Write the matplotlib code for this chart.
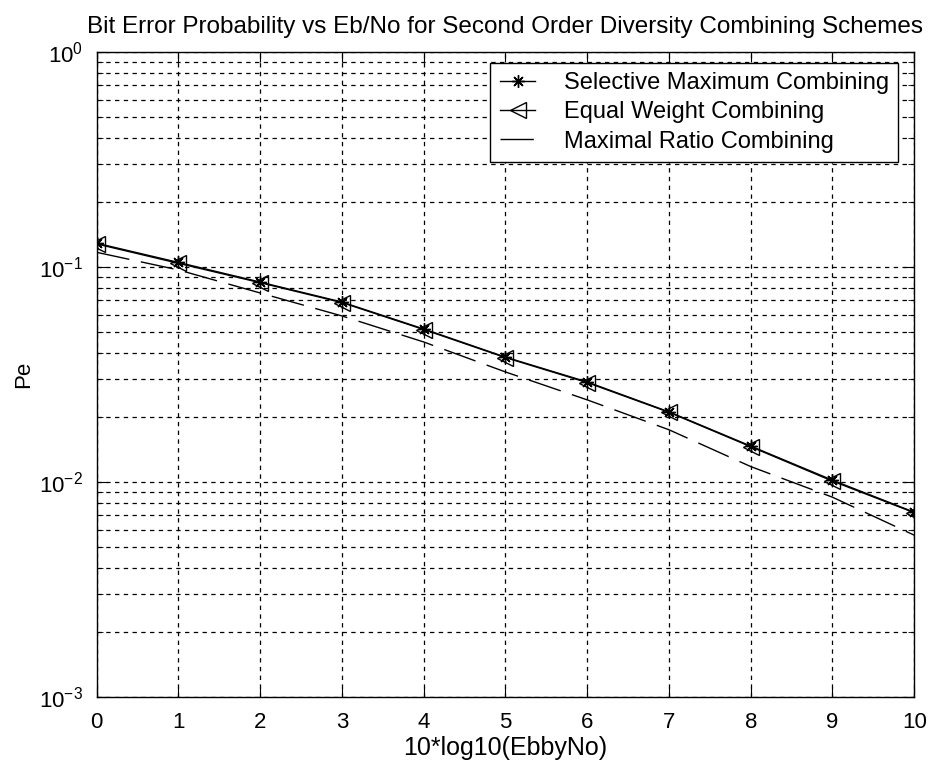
import matplotlib
matplotlib.use('Agg')
import matplotlib.pyplot as plt
import numpy as np

plt.rcParams['font.family'] = ['Liberation Sans', 'DejaVu Sans']
plt.rcParams['mathtext.fontset'] = 'custom'
plt.rcParams['mathtext.rm'] = 'Liberation Sans'

# values
ebno_db = np.arange(0, 11)
pe_selective = [0.129, 0.105, 0.0851, 0.0687, 0.0515, 0.0381, 0.0292, 0.0212, 0.0147, 0.0102, 0.00724]
pe_equal = [0.128, 0.104, 0.0845, 0.0683, 0.0512, 0.0379, 0.0290, 0.0211, 0.0146, 0.0101, 0.00720]
pe_mrc = [0.117, 0.0969, 0.0757, 0.0592, 0.0448, 0.0325, 0.0241, 0.0175, 0.0118, 0.0085, 0.00566]

fig = plt.figure(figsize=(9.3, 7.69), dpi=100)
ax = fig.add_axes([0.104, 0.0936, 0.879, 0.8388])

ax.semilogy(ebno_db, pe_selective, 'k-', marker=(8, 2, 0), ms=9, mew=1, lw=1,
            label='Selective Maximum Combining')
ax.semilogy(ebno_db, pe_equal, 'k-', marker='<', ms=12, mfc='none', mew=1, lw=1,
            label='Equal Weight Combining')
l, = ax.semilogy(ebno_db, pe_mrc, 'k-', lw=1, label='Maximal Ratio Combining')
l.set_dashes((24, 8.5))

ax.set_xlim(0, 10)
ax.set_ylim(1e-3, 1)
ax.set_xticks(range(11))

ax.grid(True, which='both', axis='y', color='k', linestyle=(0, (3.5, 3.5)), lw=0.9)
ax.grid(True, which='major', axis='x', color='k', linestyle=(0, (3.5, 3.5)), lw=0.9)
ax.tick_params(which='both', direction='in', top=True, right=True, labelsize=16, colors='k')
ax.tick_params(which='major', length=7)
ax.tick_params(which='minor', length=4)
ax.tick_params(axis='y', pad=10)
ax.tick_params(axis='x', pad=11)
for s in ax.spines.values():
    s.set_linewidth(1.0)

ax.set_title('Bit Error Probability vs Eb/No for Second Order Diversity Combining Schemes',
             fontsize=17.5, pad=14)
ax.set_xlabel('10*log10(EbbyNo)', fontsize=18, labelpad=2)
ax.set_ylabel('Pe', fontsize=16, labelpad=3.5)

leg = ax.legend(loc='upper right', bbox_to_anchor=(0.9804, 0.983), fontsize=17,
                fancybox=False, edgecolor='k', framealpha=1,
                handlelength=1.5, handletextpad=1.2, labelspacing=0.3, borderpad=0.4,
                borderaxespad=0)
leg.get_frame().set_linewidth(1.0)

fig.savefig('out.png', dpi=100)
